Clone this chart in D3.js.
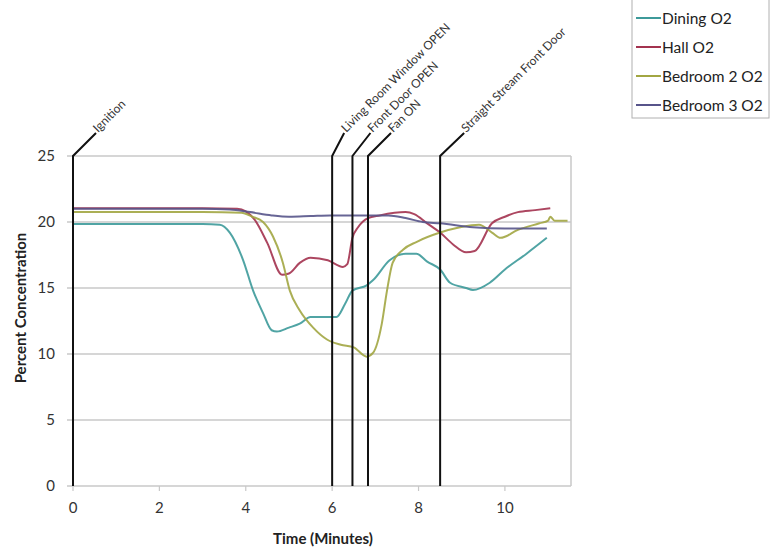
<!DOCTYPE html>
<html><head><meta charset="utf-8">
<script src="https://cdn.jsdelivr.net/npm/d3@7"></script>
<style>body{margin:0;background:#fff}svg{display:block}text{font-family:Lato,"Open Sans",sans-serif}</style>
</head><body><svg id="c" width="770" height="554"></svg>
<script>
const seriesNames = ["Dining O2","Hall O2","Bedroom 2 O2","Bedroom 3 O2"];
const seriesColors = ["#3d9a9a","#a3324f","#a2a642","#57548a"];
const diningT = [0,1,2,3,3.4,3.63,3.94,4.17,4.4,4.6,4.72,5.0,5.25,5.5,5.8,6.1,6.3,6.47,6.8,6.95,7.33,7.7,7.95,8.2,8.5,8.73,9.1,9.26,9.65,10.0,10.5,10.97];
const diningV = [19.85,19.85,19.85,19.85,19.8,19.2,17.1,14.8,13.1,11.8,11.7,12.0,12.3,12.8,12.8,12.8,13.8,14.8,15.2,15.6,17.1,17.6,17.6,17.0,16.4,15.4,15.0,14.85,15.4,16.4,17.6,18.8];
const hallT = [0,1,2,3,3.8,4.0,4.2,4.5,4.84,5.0,5.25,5.5,5.9,6.25,6.35,6.47,6.6,6.83,7.1,7.7,7.9,8.2,8.5,8.8,9.1,9.3,9.7,10.0,10.3,10.7,11.05];
const hallV = [21.05,21.05,21.05,21.05,21.0,20.8,20.2,18.4,16.0,16.1,16.9,17.3,17.1,16.6,16.8,18.8,19.6,20.3,20.5,20.75,20.6,19.9,19.2,18.3,17.7,17.8,19.9,20.4,20.75,20.9,21.05];
const bed2T = [0,1,2,3,3.9,4.15,4.4,4.63,4.86,5.02,5.25,5.56,5.88,6.2,6.5,6.8,6.95,7.15,7.27,7.4,7.64,7.96,8.5,8.96,9.4,9.7,9.9,10.3,10.8,11.0,11.05,11.15,11.45];
const bed2V = [20.75,20.75,20.75,20.75,20.7,20.4,20.0,18.9,16.9,14.8,13.3,12.0,11.1,10.7,10.5,9.8,10.1,12.3,14.8,16.9,17.9,18.5,19.2,19.6,19.8,19.2,18.8,19.4,19.9,20.1,20.4,20.1,20.1];
const bed3T = [0,1,2,3,3.63,4.1,4.6,5.0,5.5,5.95,6.5,7.0,7.3,7.7,8.1,8.5,9.26,10.0,10.97];
const bed3V = [21.0,21.0,21.0,21.0,20.95,20.75,20.5,20.4,20.45,20.5,20.5,20.5,20.5,20.3,20.0,19.9,19.6,19.5,19.5];
const eventNames = ["Ignition","Living Room Window OPEN","Front Door OPEN","Fan ON","Straight Stream Front Door"];
const eventTimes = [0,6.0,6.47,6.83,8.5];
const xTicks = [0,2,4,6,8,10];
const yTicks = [0,5,10,15,20,25];

const seriesT = [diningT,hallT,bed2T,bed3T];
const seriesV = [diningV,hallV,bed2V,bed3V];
const data = seriesNames.map((n,i)=>({name:n,color:seriesColors[i],pts:seriesT[i].map((t,j)=>[t,seriesV[i][j]])}));

const svg = d3.select("#c");
const x = d3.scaleLinear().domain([0,11.53]).range([73,571]);
const y = d3.scaleLinear().domain([0,25]).range([486,156]);

// gridlines
svg.append("g").selectAll("line").data(yTicks).join("line")
  .attr("x1",67).attr("x2",571).attr("y1",d=>y(d)).attr("y2",d=>y(d))
  .attr("stroke","#c8c8c8").attr("stroke-width",1.5);
svg.append("line").attr("x1",571).attr("x2",571).attr("y1",156).attr("y2",486).attr("stroke","#c8c8c8").attr("stroke-width",1.5);
// x ticks
svg.append("g").selectAll("line").data(xTicks).join("line")
  .attr("x1",d=>x(d)).attr("x2",d=>x(d)).attr("y1",486).attr("y2",491)
  .attr("stroke","#c8c8c8").attr("stroke-width",1.2);

// tick labels
svg.append("g").selectAll("text").data(yTicks).join("text")
  .attr("x",55).attr("y",d=>y(d)+5).attr("text-anchor","end")
  .attr("font-size",15).attr("fill","#333").text(d=>d);
svg.append("g").selectAll("text").data(xTicks).join("text")
  .attr("x",d=>x(d)).attr("y",513).attr("text-anchor","middle")
  .attr("font-size",15).attr("fill","#333").text(d=>d);

svg.append("text").attr("x",323).attr("y",544).attr("text-anchor","middle")
  .attr("font-size",15).attr("font-weight","bold").attr("fill","#222").text("Time (Minutes)");
svg.append("text").attr("transform","translate(26,308) rotate(-90)").attr("text-anchor","middle")
  .attr("font-size",15).attr("font-weight","bold").attr("fill","#222").text("Percent Concentration");

// series
const line = d3.line().x(d=>x(d[0])).y(d=>y(d[1])).curve(d3.curveMonotoneX);
svg.append("g").selectAll("path").data(data).join("path")
  .attr("d",d=>line(d.pts)).attr("fill","none").attr("stroke",d=>d.color)
  .attr("stroke-width",2).attr("stroke-opacity",0.9);

// events
const eventDx = [23,12,18,23,24];
const ev = svg.append("g");
eventTimes.forEach((t,i)=>{
  const ex = x(t), top = y(25), dx = eventDx[i], dy = 23;
  ev.append("path").attr("d",`M${ex},${y(0)}V${top}L${ex+dx},${top-dy}`)
    .attr("fill","none").attr("stroke","#111").attr("stroke-width",2);
  ev.append("text").attr("transform",`translate(${ex+dx+2},${top-dy}) rotate(-45)`)
    .attr("font-size",12).attr("fill","#333").text(eventNames[i]);
});

// legend
const lg = svg.append("g");
lg.append("rect").attr("x",632).attr("y",-1).attr("width",137).attr("height",119)
  .attr("fill","#fff").attr("stroke","#b0b0b0");
data.forEach((d,i)=>{
  const ly = 18 + i*29;
  lg.append("line").attr("x1",636).attr("x2",661).attr("y1",ly).attr("y2",ly)
    .attr("stroke",d.color).attr("stroke-width",2);
  lg.append("text").attr("x",662).attr("y",ly+5.5).attr("font-size",15.5).attr("fill","#222").text(d.name);
});
</script></body></html>
